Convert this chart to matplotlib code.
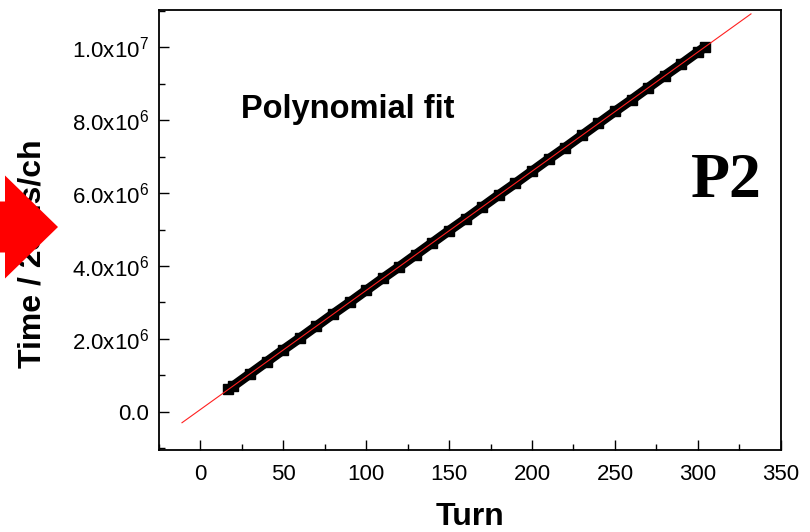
import matplotlib
matplotlib.use('Agg')
import matplotlib.pyplot as plt
import numpy as np
from matplotlib.ticker import MultipleLocator, FuncFormatter
from matplotlib.patches import FancyArrow

plt.rcParams['font.family'] = ['Liberation Sans', 'DejaVu Sans']

# measured arrival times (25 ns channels) against turn number
turns = [17, 20, 30, 40, 50, 60, 70, 80, 90, 100,
         110, 120, 130, 140, 150, 160, 170, 180, 190, 200,
         210, 220, 230, 240, 250, 260, 270, 280, 290, 300, 304]
times = [0.62e6, 0.71e6, 1.04e6, 1.37e6, 1.70e6, 2.02e6, 2.35e6, 2.68e6, 3.00e6, 3.33e6,
         3.66e6, 3.98e6, 4.31e6, 4.64e6, 4.97e6, 5.29e6, 5.62e6, 5.95e6, 6.27e6, 6.60e6,
         6.93e6, 7.25e6, 7.58e6, 7.91e6, 8.24e6, 8.56e6, 8.89e6, 9.22e6, 9.54e6, 9.87e6, 10.00e6]

# polynomial fit coefficients (highest order first) and the range it is drawn over
fit_coef = [32700.0, 0.06e6]
fit_range = [-11, 332]


def sci_fmt(v, pos):
    if v == 0:
        return '0.0'
    exp = int(np.floor(np.log10(abs(v))))
    mant = v / 10**exp
    return r'$\mathregular{%.1fx10^{%d}}$' % (mant, exp)


fig = plt.figure(figsize=(8.10, 5.32), dpi=100)
ax = fig.add_axes([0.196, 0.154, 0.768, 0.827])

ax.plot(turns, times, color='black', lw=7, marker='s', ms=6.5,
        solid_capstyle='butt', zorder=2)
fx = np.linspace(fit_range[0], fit_range[1], 60)
ax.plot(fx, np.polyval(fit_coef, fx), color='#ff2020', lw=0.8, zorder=3)

ax.set_xlim(-25, 350)
ax.set_ylim(-1.05e6, 11.02e6)
ax.xaxis.set_major_locator(MultipleLocator(50))
ax.xaxis.set_minor_locator(MultipleLocator(25))
ax.yaxis.set_major_locator(MultipleLocator(2e6))
ax.yaxis.set_minor_locator(MultipleLocator(1e6))
ax.yaxis.set_major_formatter(FuncFormatter(sci_fmt))

ax.tick_params(which='both', direction='in', top=False, right=False,
               width=1.0, labelsize=16, colors='black')
ax.tick_params(which='major', length=7.5)
ax.tick_params(which='minor', length=4.5)
ax.tick_params(axis='x', pad=10)
ax.tick_params(axis='y', pad=7)
for s in ax.spines.values():
    s.set_linewidth(1.3)

ax.text(0.133, 0.775, 'Polynomial fit', transform=ax.transAxes,
        fontsize=23.5, fontweight='bold', ha='left', va='center')
ax.text(0.912, 0.61, 'P2', transform=ax.transAxes, fontsize=46,
        fontweight='bold', family='Liberation Serif', ha='center', va='center')

fig.text(470 / 810, 1 - 517 / 532, 'Turn', fontsize=23, fontweight='bold',
         ha='center', va='center')
fig.text(33 / 810, 1 - 254 / 532, 'Time / 25 ns/ch', fontsize=23,
         fontweight='bold', rotation=90, ha='center', va='center')

# big red pointer over the left side
arr = FancyArrow(-0.05, 1 - 227 / 532, 0.05 + 58 / 810, 0,
                 width=51 / 532, head_width=103 / 532, head_length=53 / 810,
                 length_includes_head=True, color='#ff0000', lw=0,
                 transform=fig.transFigure, zorder=10)
fig.patches.append(arr)

fig.savefig('out.png', dpi=100)
